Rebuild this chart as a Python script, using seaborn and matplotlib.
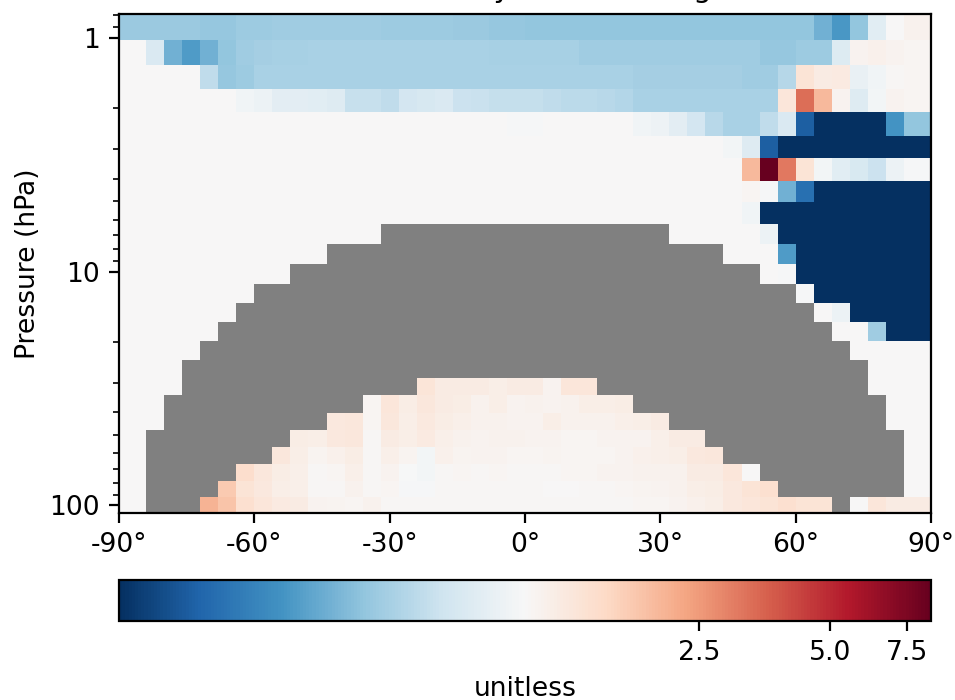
import numpy as np
import pandas as pd
import matplotlib
matplotlib.use("Agg")
import matplotlib.pyplot as plt
from matplotlib.colors import LogNorm
from matplotlib.ticker import NullLocator
import seaborn as sns

nan = np.nan

# latitude and pressure edges of the grid cells
lat_edges = [-90] + list(range(-84, 85, 4)) + [90]
pres_edges = [0.79, 1.02, 1.305, 1.654, 2.076, 2.63, 3.265, 4.09, 5.03, 6.26, 7.63, 9.3, 11.3,
              13.6, 16.4, 19.9, 23.9, 28.6, 33.8, 40.4, 47.7, 56.4, 66.6, 78.9, 92.3, 108.0]

# ratio per level, top of the plot first, one value per latitude cell
lev_00 = [.45]*4 + [.44]*2 + [.46]*2 + [.47]*6 + [.46]*4 + [.45]*2 + [.44]*2 + [.43]*16 + [.36, .29, .43, .78, 1.0, 1.1]
lev_01 = [1.0, .72, .36, .30, .36, .43, .47, .48, .49, .49] + [.5]*10 + [.49]*5 + [.47]*10 + [.44]*2 + [.46, .46, .75, 1.08, 1.12, 1.07, 1.05]
lev_02 = [1.0]*4 + [.58, .44, .46] + [.5]*15 + [.5]*6 + [.48]*6 + [.47]*2 + [.54, 1.35, 1.2, 1.22, .85, .92, 1.03, 1.05]
lev_03 = [1.0]*6 + [.92, .88, .8, .8, .78, .76] + [.61, .61, .58, .67, .7, .72, .63, .62] + [.6]*3 + [.58, .56, .56, .55, .53] + [.5]*8 + [1.3, 3.3, 2.0, 1.07, .76, .95, 1.07, 1.05]
lev_04 = [1.0]*21 + [.98, .98] + [1.0]*5 + [.92, .9, .8, .68, .55, .5, .5, .58, .72, .17] + [.1]*4 + [.28, .43]
lev_05 = [1.0]*33 + [.95, .76, .17] + [.1]*8
lev_06 = [1.0]*34 + [2.0, 8.5, 3.1, 1.35, .95, .78, .71, .63, .88, .97]
lev_07 = [1.0]*34 + [1.05, .98, .36, .2, .11] + [.1]*5
lev_08 = [1.0]*34 + [.92] + [.1]*9
lev_09 = [1.0]*14 + [nan]*16 + [1.0]*5 + [.88] + [.1]*8
lev_10 = [1.0]*11 + [nan]*22 + [1.0]*3 + [.3] + [.1]*7
lev_11 = [1.0]*9 + [nan]*26 + [1.0, .97] + [.1]*7
lev_12 = [1.0]*7 + [nan]*30 + [.98] + [.1]*6
lev_13 = [1.0]*6 + [nan]*32 + [1.0, .88] + [.1]*4
lev_14 = [1.0]*5 + [nan]*34 + [1.0, 1.0, .47, .1, .11]
lev_15 = [1.0]*4 + [nan]*36 + [1.0]*4
lev_16 = [1.0]*3 + [nan]*38 + [1.0]*3
lev_17 = [1.0]*3 + [nan]*13 + [1.32, 1.2, 1.2, 1.2, 1.15, 1.2, 1.2, 1.08, 1.3, 1.3] + [nan]*15 + [1.0]*3
lev_18 = [1.0]*2 + [nan]*11 + [1.05, 1.3, 1.18, 1.27, 1.2, 1.17, 1.1, 1.15, 1.08, 1.1, 1.07, 1.1, 1.15, 1.15, 1.18] + [nan]*14 + [1.0]*2
lev_19 = [1.0]*2 + [nan]*9 + [1.25, 1.28, 1.05, 1.27, 1.15, 1.23, 1.17, 1.13, 1.1, 1.1, 1.08, 1.07, 1.15, 1.1, 1.1, 1.1, 1.13, 1.15, 1.2] + [nan]*12 + [1.0]*2
lev_20 = [1.0] + [nan]*8 + [1.18, 1.16, 1.25, 1.28, 1.03, 1.2, 1.15, 1.22, 1.14, 1.1, 1.08, 1.1, 1.1, 1.08, 1.07, 1.05, 1.05, 1.07, 1.08, 1.08, 1.13, 1.2, 1.2] + [nan]*11 + [1.0]
lev_21 = [1.0] + [nan]*7 + [1.27, 1.15, 1.06, 1.12, 1.17, 1.02, 1.13, 1.06, .95, 1.12, 1.06, 1.07, 1.07, 1.05, 1.05, 1.06, 1.05, 1.05, 1.05, 1.07, 1.12, 1.14, 1.15, 1.25, 1.27] + [nan]*10 + [1.0]
lev_22 = [1.0] + [nan]*5 + [1.45, 1.27, 1.18, 1.14, 1.03, 1.05, 1.13, 1.02, 1.08, .99, .95, 1.03, 1.05, 1.03, 1.05, 1.03, 1.03, 1.03, 1.04, 1.05, 1.07, 1.08, 1.1, 1.1, 1.1, 1.2, 1.2, 1.3, 1.0] + [nan]*8 + [1.0]
lev_23 = [1.0] + [nan]*4 + [1.75, 1.35, 1.25, 1.15, 1.13, 1.03, 1.03, 1.1, 1.02, 1.05, .98, .97, 1.02, 1.02, 1.02, 1.02, 1.02, 1.02, 1.01, 1.01, 1.03, 1.03, 1.04, 1.06, 1.07, 1.1, 1.15, 1.18, 1.25, 1.35, 1.4] + [nan]*7 + [1.0]
lev_24 = [1.0] + [nan]*3 + [2.1, 1.85, 1.4, 1.3, 1.22, 1.2, 1.07, 1.06, 1.05, 1.1] + [1.02]*12 + [1.02, 1.03, 1.04, 1.05, 1.08, 1.12, 1.16, 1.25, 1.3, 1.33, 1.4, 1.33, 1.33] + [nan] + [1.0, 1.3, 1.2, 1.2]

levels = [lev_00, lev_01, lev_02, lev_03, lev_04, lev_05, lev_06, lev_07, lev_08, lev_09, lev_10, lev_11, lev_12,
          lev_13, lev_14, lev_15, lev_16, lev_17, lev_18, lev_19, lev_20, lev_21, lev_22, lev_23, lev_24]

lat_ticks = [-90, -60, -30, 0, 30, 60, 90]
lat_labels = ["-90°", "-60°", "-30°", "0°", "30°", "60°", "90°"]
pres_major = [1, 10, 100]
pres_minor = [0.8, 0.9, 2, 3, 4, 5, 6, 7, 8, 9, 20, 30, 40, 50, 60, 70, 80, 90]
cbar_ticks = [2.5, 5.0, 7.5]
vmax = 8.5
# only the lower edge of the title is visible in the picture
title = "O3, Dev, by seasonal avg"
fs = 9.6

sns.set_style("ticks")
plt.rcParams["font.size"] = fs
plt.rcParams["axes.edgecolor"] = "black"
plt.rcParams["axes.linewidth"] = 0.8
plt.rcParams["text.color"] = "black"
plt.rcParams["axes.labelcolor"] = "black"
plt.rcParams["xtick.color"] = "black"
plt.rcParams["ytick.color"] = "black"

df = pd.DataFrame(levels)

fig = plt.figure(figsize=(4.775, 3.5), dpi=200)
ax = fig.add_axes([119 / 955, 1 - 513 / 700, 812 / 955, 499 / 700])
cax = fig.add_axes([119 / 955, 1 - 621 / 700, 812 / 955, 41 / 700])

cmap = sns.color_palette("RdBu_r", as_cmap=True).copy()
cmap.set_bad("gray")
ax.set_facecolor("gray")

sns.heatmap(
    df,
    ax=ax,
    cmap=cmap,
    norm=LogNorm(vmin=1 / vmax, vmax=vmax),
    xticklabels=False,
    yticklabels=False,
    cbar_ax=cax,
    cbar_kws={"orientation": "horizontal", "label": "unitless"},
)


# heatmap cells are drawn by index, so the axes are rescaled to real latitude and log pressure
def scale_funcs(edges):
    idx = np.arange(len(edges))
    return (lambda v: np.interp(v, idx, edges), lambda v: np.interp(v, edges, idx))


lat_arr = np.array(lat_edges, dtype=float)
logp_arr = np.log10(pres_edges)
ax.set_xscale("function", functions=scale_funcs(lat_arr))
ax.set_yscale("function", functions=scale_funcs(logp_arr))
ax.set_xlim(0, len(lat_edges) - 1)
ax.set_ylim(len(pres_edges) - 1, 0)

to_x = scale_funcs(lat_arr)[1]
to_y = scale_funcs(logp_arr)[1]
ax.set_xticks(to_x(np.array(lat_ticks, dtype=float)))
ax.set_xticklabels(lat_labels)
ax.set_yticks(to_y(np.log10(pres_major)))
ax.set_yticklabels([str(p) for p in pres_major])
ax.set_yticks(to_y(np.log10(pres_minor)), minor=True)
ax.xaxis.set_minor_locator(NullLocator())
ax.tick_params(axis="both", which="major", length=3.5, width=0.8, labelsize=fs, left=True, bottom=True)
ax.tick_params(axis="y", which="minor", length=2, width=0.6, left=True)
ax.set_ylabel("Pressure (hPa)", fontsize=fs, labelpad=3)
ax.set_title(title, fontsize=10.5, pad=6)
for spine in ax.spines.values():
    spine.set_visible(True)
    spine.set_linewidth(0.8)
    spine.set_color("black")

cbar = ax.collections[0].colorbar
cbar.set_ticks(cbar_ticks)
cbar.set_ticklabels(["2.5", "5.0", "7.5"])
cbar.minorticks_off()
cbar.ax.tick_params(labelsize=fs, length=3.5, width=0.8, bottom=True)
cbar.set_label("unitless", fontsize=fs, labelpad=3.3)
cbar.outline.set_visible(True)
cbar.outline.set_linewidth(0.8)
cbar.outline.set_edgecolor("black")

fig.savefig("out.png", dpi=200)
